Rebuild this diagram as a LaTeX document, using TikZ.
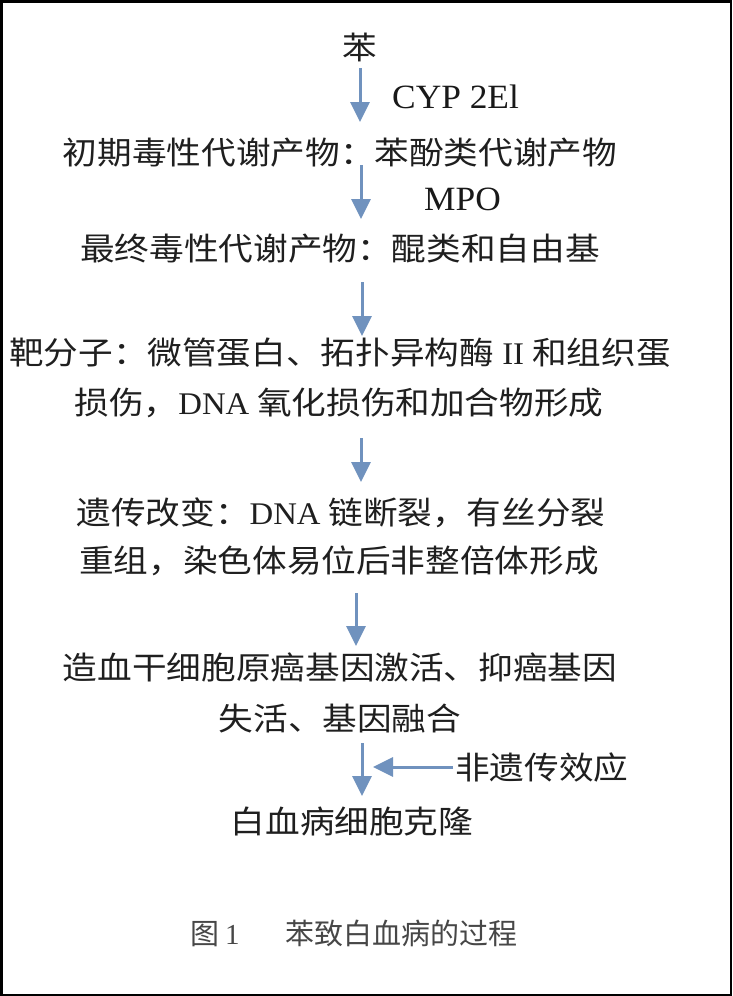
\documentclass[tikz,border=0pt]{standalone}
\usepackage{fontspec}
\setmainfont{Liberation Serif}
\newfontfamily\cjk[FakeStretch=1.1]{Noto Sans CJK SC}
\newfontfamily\cjkcap{Noto Sans CJK SC}
\newfontfamily\latw[FakeStretch=1.04]{Liberation Serif}
\usetikzlibrary{arrows.meta}
\definecolor{arrowblue}{RGB}{112,146,190}
\begin{document}
\begin{tikzpicture}[x=1pt,y=-1pt,
  txt/.style={inner sep=0pt, font=\fontsize{31.5}{40}\selectfont\cjk, text=black!88},
  lat/.style={inner sep=0pt, font=\fontsize{34}{40}\selectfont\latw, text=black!90, anchor=west},
  flow/.style={draw=arrowblue, line width=3pt, -{Triangle[width=19pt,length=20pt,fill=arrowblue]}},
  captxt/.style={inner sep=0pt, font=\fontsize{29}{34}\selectfont\cjkcap, text=black!72}]
\fill[white] (0,0) rectangle (732,996);
\draw[line width=2.5pt] (1.25,1.25) rectangle (730.75,994.75);
% texts
\node[txt] (ben) at (360,47) {苯};
\node[lat] (cyp) at (392,97) {CYP 2El};
\node[txt] (l1) at (340,153) {初期毒性代谢产物：苯酚类代谢产物};
\node[lat] (mpo) at (424,199) {MPO};
\node[txt] (l2) at (340,249) {最终毒性代谢产物：醌类和自由基};
\node[txt] (l3a) at (340,353) {靶分子：微管蛋白、拓扑异构酶{\latw\ II\ }和组织蛋};
\node[txt] (l3b) at (339,403) {损伤，{\latw DNA} 氧化损伤和加合物形成};
\node[txt] (l4a) at (341,513) {遗传改变：{\latw DNA} 链断裂，有丝分裂};
\node[txt] (l4b) at (339,561) {重组，染色体易位后非整倍体形成};
\node[txt] (l5a) at (340,667) {造血干细胞原癌基因激活、抑癌基因};
\node[txt] (l5b) at (340,718) {失活、基因融合};
\node[txt, anchor=west] (ng) at (455,768) {非遗传效应};
\node[txt] (l6) at (352,822) {白血病细胞克隆};
\node[captxt, anchor=west] (cap) at (190,933) {图\hspace{6pt}{\rmfamily 1}\hspace{46pt}苯致白血病的过程};
% arrow coordinates
\coordinate (a1s) at (360,68);  \coordinate (a1e) at (360,122);
\coordinate (a2s) at (361,165); \coordinate (a2e) at (361,219);
\coordinate (a3s) at (362,282); \coordinate (a3e) at (362,336);
\coordinate (a4s) at (361,438); \coordinate (a4e) at (361,482);
\coordinate (a5s) at (356,593); \coordinate (a5e) at (356,646);
\coordinate (a6s) at (362,743); \coordinate (a6e) at (362,796);
\coordinate (hte) at (373,767);
\draw[flow] (a1s) -- (a1e);
\draw[flow] (a2s) -- (a2e);
\draw[flow] (a3s) -- (a3e);
\draw[flow] (a4s) -- (a4e);
\draw[flow] (a5s) -- (a5e);
\draw[flow] (a6s) -- (a6e);
\draw[flow] (ng.west |- hte) ++(-2,0) -- (hte);
\end{tikzpicture}
\end{document}
